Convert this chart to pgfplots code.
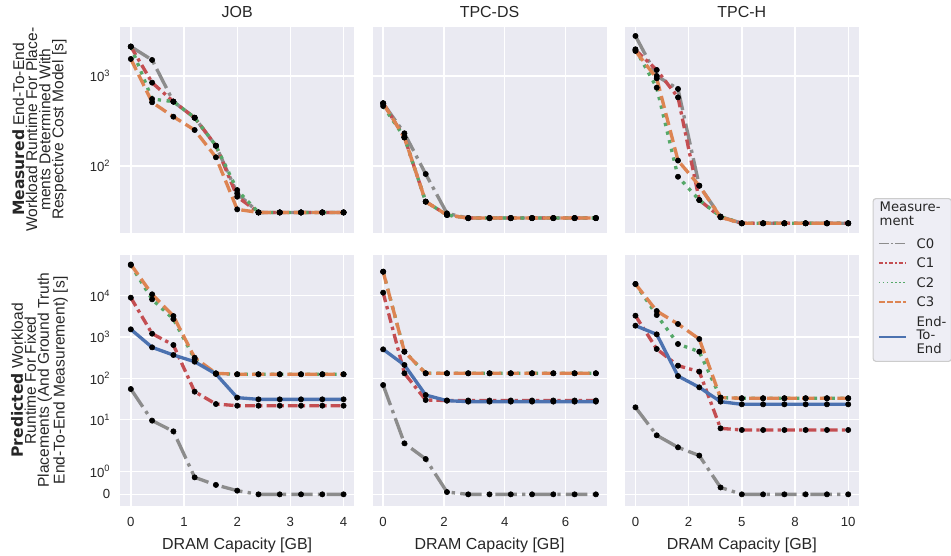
\documentclass[border=0pt]{standalone}
\usepackage{fontspec}
\setmainfont{Liberation Sans}
\newfontfamily\dvs{DejaVu Sans}
\usepackage{pgfplots}
\usepackage{pgfplotstable}
\pgfplotsset{compat=1.18}

\definecolor{bgc}{HTML}{EAEAF2}
\definecolor{legbg}{HTML}{EEEEF5}
\definecolor{legdraw}{HTML}{CCCCCC}
\definecolor{cgray}{HTML}{8C8C8C}
\definecolor{cred}{HTML}{C44E52}
\definecolor{cgreen}{HTML}{55A868}
\definecolor{corange}{HTML}{DD8452}
\definecolor{cblue}{HTML}{4C72B0}
\definecolor{tickc}{HTML}{262626}

% measured runtimes (top row)
\pgfplotstableread{
x   c0   c1   c2   c3
0.0 2120 2120 2120 1545
0.4 1506 843  555  510
0.8 519  519  519  353
1.2 344  344  344  251
1.6 168  168  168  125
2.0 49.7 45.6 54   33
2.4 30.5 30.5 30.5 30.5
2.8 30.5 30.5 30.5 30.5
3.2 30.5 30.5 30.5 30.5
3.6 30.5 30.5 30.5 30.5
4.0 30.5 30.5 30.5 30.5
}\jobmeas
\pgfplotstableread{
x   c0   c1   c2   c3
0.0 497  497  464  497
0.7 231  208  208  208
1.4 81.5 40.2 40.2 40.2
2.1 29.8 28.6 28.6 28.6
2.8 26.4 26.4 26.4 26.4
3.5 26.4 26.4 26.4 26.4
4.2 26.4 26.4 26.4 26.4
4.9 26.4 26.4 26.4 26.4
5.6 26.4 26.4 26.4 26.4
6.3 26.4 26.4 26.4 26.4
7.0 26.4 26.4 26.4 26.4
}\dsmeas
\pgfplotstableread{
x   c0   c1   c2   c3
0   2783 1944 1980 1895
1   1000 1166 742  942
2   718  579  76   115
3   60.4 41.9 41.9 60.4
4   27.4 27.0 27.4 27.0
5   23.1 23.1 23.1 23.1
6   23.1 23.1 23.1 23.1
7   23.1 23.1 23.1 23.1
8   23.1 23.1 23.1 23.1
9   23.1 23.1 23.1 23.1
10  23.1 23.1 23.1 23.1
}\hmeas

% predicted runtimes (bottom row)
\pgfplotstableread{
x   c0   c1   c2    c3    e2e
0.0 54.9 8950 55000 57000 1531
0.4 9.42 1202 8160  10790 561
0.8 5.19 640  2720  3220  366
1.2 0.74 47.4 293   315   252
1.6 0.41 23.8 130   132   127
2.0 0.16 21.7 125   125   34
2.4 0    21.7 125   125   30.9
2.8 0    21.7 125   125   30.9
3.2 0    21.7 125   125   30.9
3.6 0    21.7 125   125   30.9
4.0 0    21.7 125   125   30.9
}\jobpred
\pgfplotstableread{
x   c0   c1    c2    c3    e2e
0.0 68.7 11830 38100 38100 502
0.7 2.66 132   441   441   210
1.4 1.54 29.8  132   132   39.3
2.1 0.10 29.0  132   132   28.7
2.8 0    29.0  132   132   27.2
3.5 0    29.0  132   132   27.2
4.2 0    29.0  132   132   27.2
4.9 0    29.0  132   132   27.2
5.6 0    29.0  132   132   27.2
6.3 0    29.0  132   132   27.2
7.0 0    29.0  132   132   27.2
}\dspred
\pgfplotstableread{
x   c0   c1   c2    c3    e2e
0   19.8 3280 19190 19190 1880
1   4.16 512  3400  4250  1159
2   2.13 202  676   2060  113.5
3   1.69 145  441   893   60.4
4   0.30 6.14 34    34    27.2
5   0    5.6  32.8  32.8  23.4
6   0    5.6  32.8  32.8  23.4
7   0    5.6  32.8  32.8  23.4
8   0    5.6  32.8  32.8  23.4
9   0    5.6  32.8  32.8  23.4
10  0    5.6  32.8  32.8  23.4
}\hpred

\pgfplotsset{
  mypanel/.style={
    scale only axis, width=168.5pt, anchor=north west,
    axis background/.style={fill=bgc},
    axis line style={draw=none},
    major tick length=0pt, minor tick length=0pt,
    tick style={draw=none},
    grid=major, major grid style={white, line width=1pt},
    tick label style={font=\fontsize{9.5}{11}\selectfont, text=tickc},
    xticklabel style={yshift=-5pt},
    yticklabel style={xshift=-3.6pt},
    every axis title/.style={at={(axis description cs:0.5,1)}, anchor=center,
      yshift=10.6pt, font=\fontsize{11.5}{13}\selectfont, text=tickc},
    every axis x label/.style={at={(axis description cs:0.5,-0.157)}, anchor=center,
      font=\fontsize{11.5}{13}\selectfont, text=tickc},
    every axis y label/.style={at={(axis description cs:-0.345,0.5)}, rotate=90,
      anchor=center, align=center, font=\fontsize{11.2}{9.4}\selectfont, text=tickc},
  },
  mytop/.style={mypanel, height=148.3pt, ymin=18.2, ymax=3530,
    ytick={100,1000}, yticklabels={10\textsuperscript{2},10\textsuperscript{3}},
    xticklabels={}},
  mybot/.style={mypanel, height=180.5pt, ymin=-0.275, ymax=5.795,
    ytick={0,0.555556,1.81008,2.81008,3.81008,4.81008},
    yticklabels={0,10\textsuperscript{0},10\textsuperscript{1},10\textsuperscript{2},10\textsuperscript{3},10\textsuperscript{4}},
    % symlog, linthresh 2
    y filter/.expression={y<=2 ? 0.555556*y : 1.111111+log10(max(y,2)/2)},
    xlabel={DRAM Capacity [GB]}},
  sC0/.style={cgray, line width=2.4pt, dash pattern=on 15.4pt off 3.8pt on 2.4pt off 3.8pt, forget plot},
  sC1/.style={cred, line width=2.4pt, dash pattern=on 7pt off 3pt on 2.4pt off 3pt, forget plot},
  sC2/.style={cgreen, line width=2.4pt, dash pattern=on 2.4pt off 4pt, forget plot},
  sC3/.style={corange, line width=2.4pt, dash pattern=on 8.9pt off 3.8pt, forget plot},
  sEE/.style={cblue, line width=2.4pt, line join=round, forget plot},
  sdots/.style={only marks, mark=*, mark size=1.9pt, black, forget plot},
}

\begin{document}
\begin{tikzpicture}
\path[use as bounding box] (0,0) rectangle (684.72pt,-400.32pt);

% ---- top row: measured
\begin{axis}[mytop, ymode=log, at={(86.54pt,-19.2pt)}, xmin=-0.2, xmax=4.2, xtick={0,1,2,3,4},
  title={JOB},
  ylabel={{\dvs\bfseries Measured} End-To-End\\Workload Runtime For Place-\\ments Determined With\\Respective Cost Model [s]}]
\addplot[sC0] table[x=x,y=c0]{\jobmeas};
\addplot[sC1] table[x=x,y=c1]{\jobmeas};
\addplot[sC2] table[x=x,y=c2]{\jobmeas};
\addplot[sC3] table[x=x,y=c3]{\jobmeas};
\addplot[sdots] table[x=x,y=c0]{\jobmeas};
\addplot[sdots] table[x=x,y=c1]{\jobmeas};
\addplot[sdots] table[x=x,y=c2]{\jobmeas};
\addplot[sdots] table[x=x,y=c3]{\jobmeas};
\end{axis}

\begin{axis}[mytop, ymode=log, at={(268.2pt,-19.2pt)}, xmin=-0.35, xmax=7.35, xtick={0,2,4,6},
  yticklabels={}, title={TPC-DS}]
\addplot[sC0] table[x=x,y=c0]{\dsmeas};
\addplot[sC1] table[x=x,y=c1]{\dsmeas};
\addplot[sC2] table[x=x,y=c2]{\dsmeas};
\addplot[sC3] table[x=x,y=c3]{\dsmeas};
\addplot[sdots] table[x=x,y=c0]{\dsmeas};
\addplot[sdots] table[x=x,y=c1]{\dsmeas};
\addplot[sdots] table[x=x,y=c2]{\dsmeas};
\addplot[sdots] table[x=x,y=c3]{\dsmeas};
\end{axis}

\begin{axis}[mytop, ymode=log, at={(449.86pt,-19.2pt)}, xmin=-0.5, xmax=10.5, xtick={0,2.5,5,7.5,10},
  yticklabels={}, title={TPC-H}]
\addplot[sC0] table[x=x,y=c0]{\hmeas};
\addplot[sC1] table[x=x,y=c1]{\hmeas};
\addplot[sC2] table[x=x,y=c2]{\hmeas};
\addplot[sC3] table[x=x,y=c3]{\hmeas};
\addplot[sdots] table[x=x,y=c0]{\hmeas};
\addplot[sdots] table[x=x,y=c1]{\hmeas};
\addplot[sdots] table[x=x,y=c2]{\hmeas};
\addplot[sdots] table[x=x,y=c3]{\hmeas};
\end{axis}

% ---- bottom row: predicted
\begin{axis}[mybot, at={(86.54pt,-183.6pt)}, xmin=-0.2, xmax=4.2, xtick={0,1,2,3,4},
  xticklabels={0,1,2,3,4},
  ylabel={{\dvs\bfseries Predicted} Workload\\Runtime For Fixed\\Placements (And Ground Truth\\End-To-End Measurement) [s]}]
\addplot[sC0] table[x=x,y=c0]{\jobpred};
\addplot[sC1] table[x=x,y=c1]{\jobpred};
\addplot[sC2] table[x=x,y=c2]{\jobpred};
\addplot[sC3] table[x=x,y=c3]{\jobpred};
\addplot[sEE] table[x=x,y=e2e]{\jobpred};
\addplot[sdots] table[x=x,y=c0]{\jobpred};
\addplot[sdots] table[x=x,y=c1]{\jobpred};
\addplot[sdots] table[x=x,y=c2]{\jobpred};
\addplot[sdots] table[x=x,y=c3]{\jobpred};
\addplot[sdots] table[x=x,y=e2e]{\jobpred};
\end{axis}

\begin{axis}[mybot, at={(268.2pt,-183.6pt)}, xmin=-0.35, xmax=7.35, xtick={0,2,4,6},
  xticklabels={0,2,4,6}, yticklabels={}]
\addplot[sC0] table[x=x,y=c0]{\dspred};
\addplot[sC1] table[x=x,y=c1]{\dspred};
\addplot[sC2] table[x=x,y=c2]{\dspred};
\addplot[sC3] table[x=x,y=c3]{\dspred};
\addplot[sEE] table[x=x,y=e2e]{\dspred};
\addplot[sdots] table[x=x,y=c0]{\dspred};
\addplot[sdots] table[x=x,y=c1]{\dspred};
\addplot[sdots] table[x=x,y=c2]{\dspred};
\addplot[sdots] table[x=x,y=c3]{\dspred};
\addplot[sdots] table[x=x,y=e2e]{\dspred};
\end{axis}

\begin{axis}[mybot, at={(449.86pt,-183.6pt)}, xmin=-0.5, xmax=10.5, xtick={0,2.5,5,7.5,10},
  xticklabels={0,2,5,8,10}, yticklabels={},
  legend style={at={(axis description cs:1.0587,1.2271)}, anchor=north west,
    fill=legbg, draw=legdraw, line width=0.8pt, rounded corners=2pt,
    font=\dvs\fontsize{9.5}{9.6}\selectfont, text=tickc,
    inner xsep=3.6pt, inner ysep=2.5pt, row sep=6.8pt, column sep=7.2pt,
    nodes={inner sep=0pt, text depth=}, cells={anchor=west}},
  legend image code/.code={\draw[#1] (0pt,0pt) -- (19.4pt,0pt);}]
\addplot[sC0] table[x=x,y=c0]{\hpred};
\addplot[sC1] table[x=x,y=c1]{\hpred};
\addplot[sC2] table[x=x,y=c2]{\hpred};
\addplot[sC3] table[x=x,y=c3]{\hpred};
\addplot[sEE] table[x=x,y=e2e]{\hpred};
\addplot[sdots] table[x=x,y=c0]{\hpred};
\addplot[sdots] table[x=x,y=c1]{\hpred};
\addplot[sdots] table[x=x,y=c2]{\hpred};
\addplot[sdots] table[x=x,y=c3]{\hpred};
\addplot[sdots] table[x=x,y=e2e]{\hpred};
\addlegendimage{empty legend}
\addlegendentry{\hspace*{-26.6pt}\begin{tabular}[c]{@{}l@{}}Measure-\\ment\end{tabular}}
\addlegendimage{cgray, line width=1.1pt, dash pattern=on 7pt off 1.8pt on 1.1pt off 1.8pt}
\addlegendentry{C0}
\addlegendimage{cred, line width=1.1pt, dash pattern=on 3.2pt off 1.4pt on 1.1pt off 1.4pt}
\addlegendentry{C1}
\addlegendimage{cgreen, line width=1.1pt, dash pattern=on 1.1pt off 1.8pt}
\addlegendentry{C2}
\addlegendimage{corange, line width=1.1pt, dash pattern=on 4.1pt off 1.8pt}
\addlegendentry{C3}
\addlegendimage{cblue, line width=1.1pt}
\addlegendentry{\begin{tabular}[c]{@{}l@{}}End-\\To-\\End\end{tabular}}
\end{axis}
\end{tikzpicture}
\end{document}
